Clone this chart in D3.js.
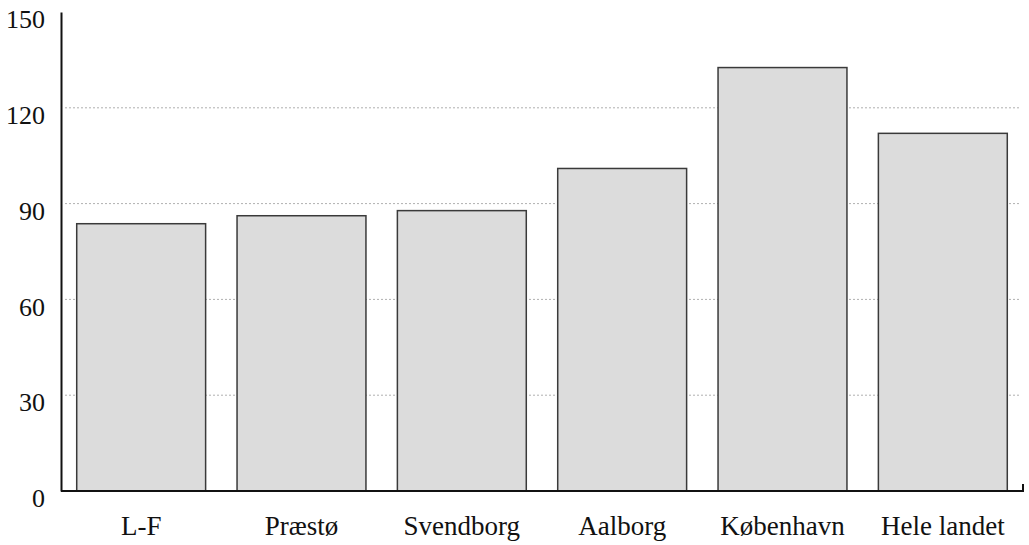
<!DOCTYPE html>
<html>
<head>
<meta charset="utf-8">
<script src="https://cdn.jsdelivr.net/npm/d3@7/dist/d3.min.js"></script>
<style>
  html, body { margin: 0; padding: 0; background: #fff; }
  svg { display: block; }
  text { font-family: "Liberation Serif", "DejaVu Serif", serif; fill: #111; }
</style>
</head>
<body>
<svg id="chart" width="1029" height="545"></svg>
<script>
const categories = ["L-F", "Præstø", "Svendborg", "Aalborg", "København", "Hele landet"];
const values = [83.7, 86.2, 87.8, 101, 132.6, 112];
const yTicks = [0, 30, 60, 90, 120, 150];
const gridTicks = [30, 60, 90, 120];

const svg = d3.select("#chart");
const x0 = 61, x1 = 1023, yBase = 491, yTop = 12;

const x = d3.scaleBand().domain(categories).range([x0, x1])
  .paddingInner(0.196).paddingOuter(0.098);
const y = d3.scaleLinear().domain([0, 150]).range([yBase, yTop]);

// dotted gridlines
svg.append("g").selectAll("line").data(gridTicks).join("line")
  .attr("x1", x0 + 4).attr("x2", x1 - 4)
  .attr("y1", d => y(d)).attr("y2", d => y(d))
  .attr("stroke", "#b0b0b0").attr("stroke-width", 1)
  .attr("stroke-dasharray", "2,2");

// bars
svg.append("g").selectAll("rect").data(values).join("rect")
  .attr("x", (d, i) => x(categories[i]))
  .attr("width", x.bandwidth())
  .attr("y", d => y(d))
  .attr("height", d => yBase - y(d))
  .attr("fill", "#dcdcdc")
  .attr("stroke", "#3a3a3a")
  .attr("stroke-width", 1.5);

// y axis
const yAxis = d3.axisLeft(y).tickValues(yTicks).tickSize(0).tickPadding(16);
const gy = svg.append("g").attr("transform", `translate(${x0},0)`).call(yAxis);
gy.select(".domain").attr("stroke", "#111").attr("stroke-width", 2);
gy.selectAll("text").attr("font-size", 26).attr("dy", "0.6em")
  .style("font-family", '"Liberation Serif", serif').attr("fill", "#111");

// x axis
const xAxis = d3.axisBottom(x).tickSize(0).tickPadding(25);
const gx = svg.append("g").attr("transform", `translate(0,${yBase})`).call(xAxis);
gx.select(".domain").remove();
gx.selectAll("text").attr("font-size", 27)
  .style("font-family", '"Liberation Serif", serif').attr("fill", "#111");

svg.append("path")
  .attr("d", `M${x0},${yBase}H${x1}V${yBase - 7}`)
  .attr("fill", "none").attr("stroke", "#111").attr("stroke-width", 2);
</script>
</body>
</html>
